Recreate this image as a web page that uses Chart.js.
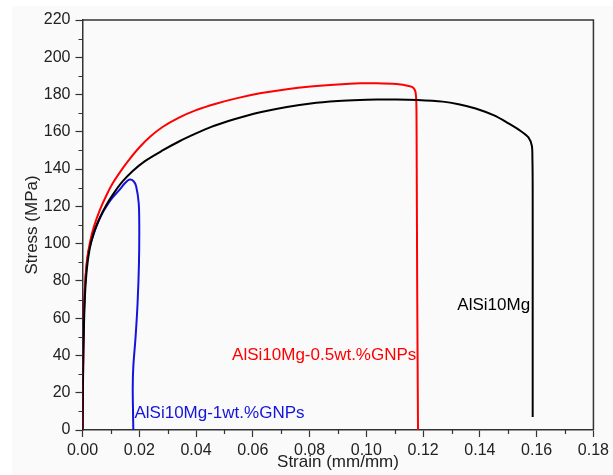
<!DOCTYPE html>
<html>
<head>
<meta charset="utf-8">
<script src="https://cdn.jsdelivr.net/npm/chart.js@4/dist/chart.umd.min.js"></script>
<style>
  html, body { margin: 0; padding: 0; background: #fff; }
  #wrap { width: 613px; height: 475px; }
</style>
</head>
<body>
<div id="wrap"><canvas id="chart" width="613" height="475"></canvas></div>
<script>
// strain (mm/mm) / stress (MPa)
const baseStrain = [0, 0.0003, 0.0008, 0.0015, 0.0025, 0.004, 0.006, 0.0085, 0.011, 0.0142, 0.0177, 0.022, 0.0282, 0.034, 0.0398, 0.0456, 0.0514, 0.0572, 0.063, 0.072, 0.0804, 0.09, 0.0978, 0.1037, 0.1106, 0.118, 0.1269, 0.1325, 0.1385, 0.145, 0.1501, 0.1545, 0.1571, 0.1583, 0.1585, 0.1586, 0.1586, 0.1586];
const baseStress = [0, 40, 70, 86, 97, 106, 113.5, 121, 127, 133.5, 139, 144.3, 150, 154.8, 159, 162.8, 165.8, 168.4, 170.6, 173.3, 175.2, 176.5, 177.1, 177.3, 177.4, 177.1, 176.2, 174.8, 172.5, 168.8, 164.5, 160.3, 157, 152.5, 146, 130, 60, 7];

const halfStrain = [0, 0.0003, 0.0008, 0.0015, 0.0026, 0.004, 0.0061, 0.0084, 0.0107, 0.0142, 0.0166, 0.02, 0.024, 0.0282, 0.034, 0.0398, 0.0473, 0.0549, 0.063, 0.072, 0.0804, 0.09, 0.0978, 0.1037, 0.1106, 0.1153, 0.1166, 0.1173, 0.1176, 0.1177, 0.1179, 0.1182];
const halfStress = [0, 45, 75, 90, 100.5, 109, 118, 125.8, 132.5, 140.5, 145.4, 151.6, 157.6, 162.6, 167.6, 171.5, 175.2, 178.2, 180.8, 182.9, 184.3, 185.4, 186, 186.1, 185.6, 184.4, 183.5, 181.5, 176, 160, 80, 0];

const oneStrain = [0, 0.0003, 0.0009, 0.002, 0.0035, 0.0049, 0.0065, 0.0084, 0.0105, 0.0131, 0.015, 0.0166, 0.018, 0.0189, 0.0198, 0.02, 0.0199, 0.0194, 0.0187, 0.0179, 0.0177, 0.0178, 0.0179];
const oneStress = [0, 50, 77, 95, 103, 109.3, 115, 120, 124.5, 129, 132.5, 134.4, 133.5, 130.8, 121.8, 110, 90, 68, 50, 34, 23, 10, 0];

const seriesNames = ['AlSi10Mg', 'AlSi10Mg-0.5wt.%GNPs', 'AlSi10Mg-1wt.%GNPs'];
const seriesColors = ['#000000', '#ff0000', '#1414dc'];

const xTitle = 'Strain (mm/mm)';
const yTitle = 'Stress (MPa)';

// curve labels, anchored in data units
const curveLabels = [
  { text: seriesNames[0], x: 0.1577, y: 67, align: 'right', color: seriesColors[0] },
  { text: seriesNames[1], x: 0.1176, y: 40.3, align: 'right', color: seriesColors[1] },
  { text: seriesNames[2], x: 0.0183, y: 9.1, align: 'left', color: seriesColors[2] }
];

const toPoints = (xs, ys) => xs.map((x, i) => ({ x: x, y: ys[i] }));
const axisColor = '#333';
const fontFamily = '"Liberation Sans", Arial, sans-serif';

// light figure background
const backdrop = {
  id: 'backdrop',
  beforeDraw(chart) {
    const ctx = chart.ctx;
    ctx.save();
    ctx.fillStyle = '#fafafa';
    ctx.fillRect(12, 6, chart.width - 12, chart.height - 6);
    ctx.restore();
  }
};

// top/right frame, minor ticks and curve labels
const decorations = {
  id: 'decorations',
  afterDraw(chart) {
    const { ctx, chartArea: a, scales: { x, y } } = chart;
    ctx.save();
    ctx.strokeStyle = axisColor;
    ctx.lineWidth = 1.5;
    ctx.beginPath();
    ctx.moveTo(a.left, a.top);
    ctx.lineTo(a.right, a.top);
    ctx.lineTo(a.right, a.bottom);
    ctx.stroke();

    ctx.lineWidth = 1.2;
    ctx.beginPath();
    for (let v = 0.01; v < 0.18; v += 0.02) {
      const px = Math.round(x.getPixelForValue(v)) + 0.5;
      ctx.moveTo(px, a.bottom);
      ctx.lineTo(px, a.bottom + 4);
    }
    for (let v = 10; v < 220; v += 20) {
      const py = Math.round(y.getPixelForValue(v)) + 0.5;
      ctx.moveTo(a.left, py);
      ctx.lineTo(a.left - 4, py);
    }
    ctx.stroke();

    ctx.font = '17px ' + fontFamily;
    ctx.textBaseline = 'middle';
    curveLabels.forEach(l => {
      ctx.fillStyle = l.color;
      ctx.textAlign = l.align;
      ctx.fillText(l.text, x.getPixelForValue(l.x), y.getPixelForValue(l.y));
    });
    ctx.restore();
  }
};

new Chart(document.getElementById('chart'), {
  type: 'scatter',
  data: {
    datasets: [
      { label: seriesNames[0], data: toPoints(baseStrain, baseStress), borderColor: seriesColors[0] },
      { label: seriesNames[1], data: toPoints(halfStrain, halfStress), borderColor: seriesColors[1] },
      { label: seriesNames[2], data: toPoints(oneStrain, oneStress), borderColor: seriesColors[2] }
    ].map(d => Object.assign(d, {
      showLine: true,
      borderWidth: 2,
      pointRadius: 0,
      tension: 0.3,
      fill: false
    }))
  },
  options: {
    responsive: false,
    animation: false,
    layout: { padding: { left: 0, right: 14, top: 20, bottom: 0 } },
    plugins: {
      legend: { display: false },
      tooltip: { enabled: false }
    },
    scales: {
      x: {
        type: 'linear',
        min: 0,
        max: 0.18,
        afterFit: s => { s.height = 45; },
        border: { display: true, color: axisColor, width: 1.5 },
        grid: { drawOnChartArea: false, tickLength: 7, tickColor: axisColor, tickWidth: 1.2 },
        ticks: {
          stepSize: 0.02,
          padding: 4,
          color: '#222',
          font: { family: fontFamily, size: 16 },
          callback: v => Number(v).toFixed(2)
        },
        title: {
          display: true,
          text: xTitle,
          color: '#222',
          font: { family: fontFamily, size: 17 },
          padding: { top: 0, bottom: 2 }
        }
      },
      y: {
        type: 'linear',
        min: 0,
        max: 220,
        afterFit: s => { s.width = 82.5; },
        border: { display: true, color: axisColor, width: 1.5 },
        grid: { drawOnChartArea: false, tickLength: 7, tickColor: axisColor, tickWidth: 1.2 },
        ticks: {
          stepSize: 20,
          padding: 5,
          color: '#222',
          font: { family: fontFamily, size: 16 }
        },
        title: {
          display: true,
          text: yTitle,
          color: '#222',
          font: { family: fontFamily, size: 17 },
          padding: { top: 22, bottom: 0 }
        }
      }
    }
  },
  plugins: [backdrop, decorations]
});
</script>
</body>
</html>
